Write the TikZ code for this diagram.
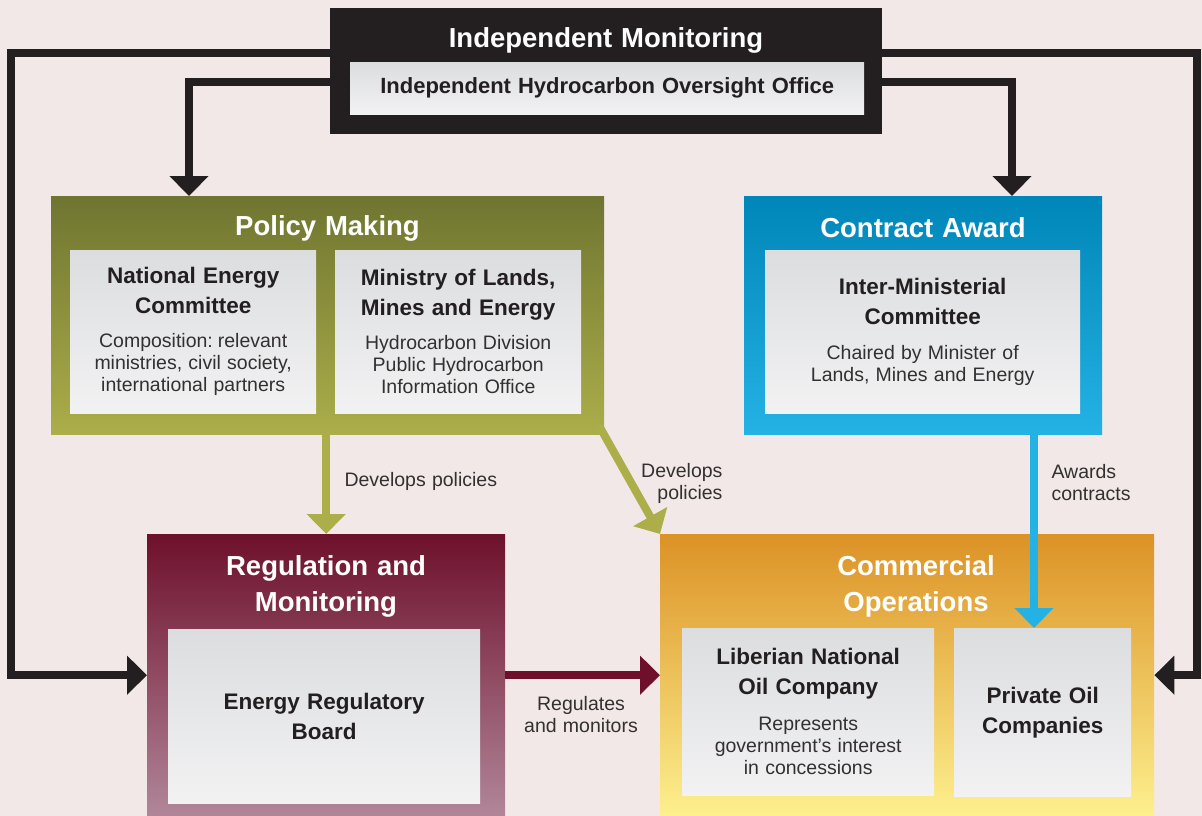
\documentclass[tikz,border=0pt]{standalone}
\usepackage{fontspec}
\setmainfont{Liberation Sans}
\usetikzlibrary{arrows.meta}

\definecolor{bgpink}{RGB}{243,232,232}
\definecolor{inkblack}{RGB}{35,31,32}
\definecolor{notegray}{RGB}{50,48,48}
\definecolor{leaftop}{RGB}{111,117,48}
\definecolor{leafbottom}{RGB}{172,174,74}
\definecolor{skytop}{RGB}{0,134,184}
\definecolor{skybottom}{RGB}{36,178,228}
\definecolor{winetop}{RGB}{110,16,44}
\definecolor{winebottom}{RGB}{177,134,153}
\definecolor{ambertop}{RGB}{220,146,38}
\definecolor{amberbottom}{RGB}{253,240,142}
\definecolor{cardtop}{RGB}{220,221,223}
\definecolor{cardbottom}{RGB}{242,242,243}

\newcommand\headfont{\fontsize{27.5}{36}\selectfont\bfseries\spaceskip=0.32em}
\newcommand\namefont{\fontsize{22.5}{30}\selectfont\bfseries\spaceskip=0.32em}
\newcommand\notefont{\fontsize{19.5}{22}\selectfont\spaceskip=0.32em}

\tikzset{
  panel/.style={inner sep=0pt, anchor=north west},
  card/.style={panel, inner xsep=6pt, top color=cardtop, bottom color=cardbottom,
    text=inkblack, align=center},
  head/.style={text=white, font=\headfont, align=center},
  flow/.style={line width=8pt, -{Triangle[width=38pt,length=20pt]}},
  note/.style={font=\notefont, text=notegray},
}

\begin{document}
\begin{tikzpicture}[x=1pt, y=-1pt]

  \useasboundingbox (0,0) rectangle (1202,816);
  \fill[bgpink] (0,0) rectangle (1202,816);

  %panels
  \node[panel, fill=inkblack, minimum width=552pt, minimum height=126pt] (monitor) at (330,8) {};
  \node[panel, top color=leaftop, bottom color=leafbottom, minimum width=553pt, minimum height=238pt] (policy) at (51,196) {};
  \node[panel, top color=skytop, bottom color=skybottom, minimum width=358pt, minimum height=238pt] (contract) at (744,196) {};
  \node[panel, top color=winetop, bottom color=winebottom, minimum width=358pt, minimum height=282pt] (regulation) at (147,534) {};
  \node[panel, top color=ambertop, bottom color=amberbottom, minimum width=494pt, minimum height=282pt] (commercial) at (660,534) {};

  %panel titles
  \node[head] (monitorhead) at (606,40) {Independent Monitoring};
  \node[head] (policyhead) at (327.5,228) {Policy Making};
  \node[head] (contracthead) at (923,228) {Contract Award};
  \node[head] (regulationhead) at (326,586) {Regulation and\\Monitoring};
  \node[head] (commercialhead) at (916,586) {Commercial\\Operations};

  %cards
  \node[card, text width=502pt, minimum height=52pt] (ihoo) at (350,62)
    {\namefont\fontsize{22}{26}\selectfont\spaceskip=0.32em Independent Hydrocarbon Oversight Office};
  \node[card, text width=234pt, minimum height=163pt] (nec) at (70,250)
    {{\namefont National Energy\\Committee\par}\vspace{12pt}
     {\notefont\color{notegray}Composition: relevant\\ministries, civil society,\\international partners\par}};
  \node[card, text width=234pt, minimum height=163pt] (mlme) at (335,250)
    {{\namefont Ministry of Lands,\\Mines and Energy\par}\vspace{12pt}
     {\notefont\color{notegray}Hydrocarbon Division\\Public Hydrocarbon\\Information Office\par}};
  \node[card, text width=303pt, minimum height=163pt] (imc) at (765,250)
    {{\namefont Inter-Ministerial\\Committee\par}\vspace{13pt}
     {\notefont\color{notegray}Chaired by Minister of\\Lands, Mines and Energy\par}};
  \node[card, text width=300pt, minimum height=174pt] (erb) at (168,629)
    {\namefont Energy Regulatory\\Board\par};
  \node[card, text width=240pt, minimum height=167pt] (lnoc) at (682,628)
    {{\namefont Liberian National\\Oil Company\par}\vspace{14pt}
     {\notefont\color{notegray}Represents\\government's interest\\in concessions\par}};
  \node[card, text width=165pt, minimum height=168pt] (private) at (954,628)
    {\namefont Private Oil\\Companies\par};

  %monitoring lines
  \coordinate (lfar) at (11,53);
  \coordinate (lnear) at (189,82);
  \coordinate (rfar) at (1197,53);
  \coordinate (rnear) at (1012,82);
  \draw[flow, inkblack] (monitor.west |- lfar) -- (lfar) |- (regulation.west);
  \draw[flow, inkblack] (monitor.west |- lnear) -| (policy.north -| lnear);
  \draw[flow, inkblack] (monitor.east |- rfar) -- (rfar) |- (commercial.east);
  \draw[flow, inkblack] (monitor.east |- rnear) -| (contract.north -| rnear);

  %policies, contracts, regulation
  \coordinate (award) at (1034,0);
  \draw[flow, leafbottom] (policy.south -| regulation.north) -- (regulation.north);
  \draw[flow, leafbottom] ([xshift=-5pt,yshift=8pt]policy.south east) -- (commercial.north west);
  \draw[flow, skybottom] (contract.south -| award) -- (private.north -| award);
  \draw[flow, winetop] (regulation.east) -- (commercial.west);

  %captions
  \node[note, anchor=west] (policylink) at (341,481) {Develops policies};
  \node[note, anchor=east, align=right] (policydiag) at (726,483) {Develops\\policies};
  \node[note, anchor=west, align=left] (awardlink) at (1048,483) {Awards\\contracts};
  \node[note, align=center] (regulatelink) at (581,715) {Regulates\\and monitors};

\end{tikzpicture}
\end{document}
